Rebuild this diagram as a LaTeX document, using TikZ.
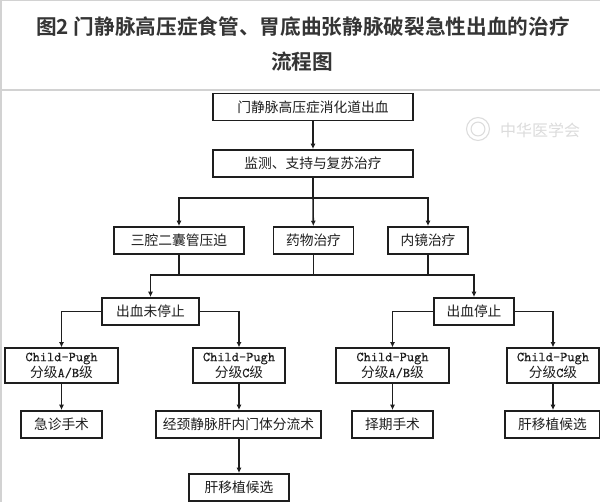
\documentclass[tikz,border=0pt]{standalone}
\usepackage{fontspec}
\setmainfont{Noto Sans CJK SC}
\newfontfamily\titlefont{Noto Sans CJK SC}[BoldFont={Noto Sans CJK SC Bold}]
\setmonofont{Latin Modern Mono}[FakeBold=0.2]
\usetikzlibrary{arrows.meta}
\definecolor{rulegray}{HTML}{D2D2D2}
\definecolor{ink}{HTML}{1E1E1E}
\definecolor{wmgray}{HTML}{DCDCDC}
\tikzset{
  x=0.75pt,y=-0.75pt,
  box/.style={draw=ink,line width=1.15pt,inner sep=0pt,align=center,font=\fontsize{10.3}{12}\selectfont,text=ink,fill=white,anchor=center},
  step1/.style={box,minimum width=150pt,minimum height=20.5pt},
  link/.style={draw=ink,line width=1.15pt},
  arr/.style={link,-{Latex[length=4pt,width=3.8pt]}},
  heading/.style={font=\titlefont\bfseries\fontsize{15.5}{18}\selectfont,text=ink!90!white,inner sep=0pt},
}
\newcommand{\cp}[1]{{\ttfamily Child-Pugh}\\分级{\ttfamily #1}级}
\begin{document}
\begin{tikzpicture}
\useasboundingbox (0,0) rectangle (600,502);
\fill[white] (0,0) rectangle (600,502);
% page rules
\fill[rulegray] (0,0) rectangle (600,1.5);
\fill[rulegray] (0,0) rectangle (2,502);
\fill[rulegray] (0,88.8) rectangle (600,91);
% title
\node[heading] (t1) at (303,27) {图2 门静脉高压症食管、胃底曲张静脉破裂急性出血的治疗};
\node[heading] (t2) at (302,62) {流程图};
% watermark
\draw[wmgray,line width=0.8pt] (478,129) circle [radius=8.6pt];
\draw[wmgray,line width=0.8pt] (478,129) circle [radius=5.2pt];
\node[text=wmgray,inner sep=0pt,font=\fontsize{12}{12}\selectfont] (wm) at (540,130) {中华医学会};
% nodes
\node[step1] (a) at (313,107) {门静脉高压症消化道出血};
\node[step1] (b) at (313,163.5) {监测、支持与复苏治疗};
\node[box,minimum width=97.5pt,minimum height=20.5pt] (c1) at (179,240.5) {三腔二囊管压迫};
\node[box,minimum width=60pt,minimum height=20.5pt] (c2) at (313.5,240.5) {药物治疗};
\node[box,minimum width=60pt,minimum height=20.5pt] (c3) at (428,240.5) {内镜治疗};
\node[box,minimum width=72.5pt,minimum height=20.5pt] (n1) at (150.5,311.5) {出血未停止};
\node[box,minimum width=60pt,minimum height=20.5pt] (n2) at (474,311.5) {出血停止};
\node[box,minimum width=84.5pt,minimum height=26pt] (p1) at (61.5,365.5) {\cp{A/B}};
\node[box,minimum width=69pt,minimum height=26pt] (p2) at (239,365.5) {\cp{C}};
\node[box,minimum width=84.5pt,minimum height=26pt] (p3) at (392.5,365.5) {\cp{A/B}};
\node[box,minimum width=69pt,minimum height=26pt] (p4) at (553,365.5) {\cp{C}};
\node[box,minimum width=60.5pt,minimum height=20.5pt] (d1) at (61.5,424.5) {急诊手术};
\node[box,minimum width=124pt,minimum height=20.5pt] (d2) at (238.5,424.5) {经颈静脉肝内门体分流术};
\node[box,minimum width=60.5pt,minimum height=20.5pt] (d3) at (392.5,424.5) {择期手术};
\node[box,minimum width=71pt,minimum height=20.5pt] (d4) at (552.5,424.5) {肝移植候选};
\node[box,minimum width=75pt,minimum height=20.5pt] (e) at (239,487.5) {肝移植候选};
% bus junctions
\coordinate (up) at (313,198);
\coordinate (low) at (313,275);
% connectors
\draw[arr] (a) -- (b);
\draw[link] (b) -- (up);
\draw[arr] (up) -- (c2);
\draw[arr] (up) -| (c1);
\draw[arr] (up) -| (c3);
\draw[link] (c1.south) -- (c1.south |- low);
\draw[link] (c2.south) -- (c2.south |- low);
\draw[link] (c3.south) -- (c3.south |- low);
\draw[arr] (low) -| (n1);
\draw[arr] (low) -| (n2);
\draw[arr] (n1.west) -| (p1);
\draw[arr] (n1.east) -| (p2);
\draw[arr] (n2.west) -| (p3);
\draw[arr] (n2.east) -| (p4);
\draw[arr] (p1) -- (d1);
\draw[arr] (p2) -- (d2.north -| p2);
\draw[arr] (p3) -- (d3);
\draw[arr] (p4) -- (d4.north -| p4);
\draw[arr] (d2.south -| e) -- (e);
\end{tikzpicture}
\end{document}
